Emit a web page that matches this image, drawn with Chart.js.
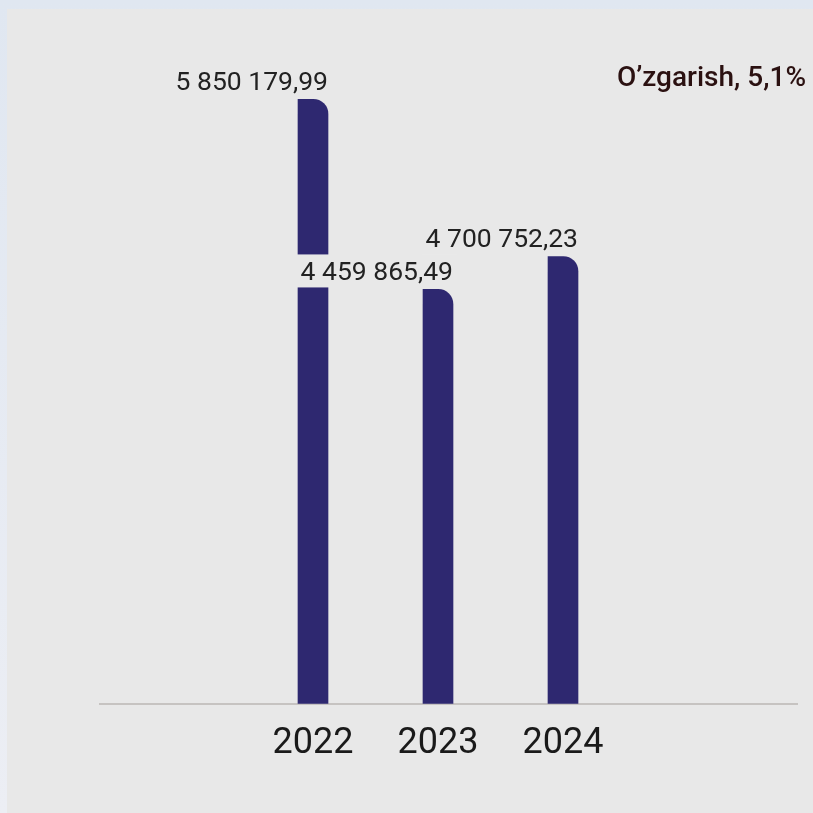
<!DOCTYPE html>
<html lang="uz">
<head>
  <meta charset="UTF-8">
  <title>O'zgarish</title>
  <script src="https://cdn.jsdelivr.net/npm/chart.js"></script>
  <style>
    html, body {
      margin: 0;
      padding: 0;
      width: 813px;
      height: 813px;
      overflow: hidden;
      background: linear-gradient(to bottom, #e0e7f1, #eceef4);
    }

    .panel {
      position: absolute;
      left: 7px;
      top: 9px;
      right: 0;
      bottom: 0;
      background: #e8e8e8;
    }

    .chart-box {
      position: absolute;
      left: 0;
      top: 0;
      width: 813px;
      height: 813px;
    }
  </style>
</head>
<body>
  <div class="panel"></div>
  <div class="chart-box"><canvas id="changeChart"></canvas></div>

  <script>
    const years = [2022, 2023, 2024];
    const amounts = [5850179.99, 4459865.49, 4700752.23];
    const amountLabels = ['5 850 179,99', '4 459 865,49', '4 700 752,23'];
    const titleText = 'O\u2019zgarish, 5,1%';

    // value labels sit right-aligned to the bar, on a patch of the panel colour
    const barLabels = {
      id: 'barLabels',
      afterDatasetsDraw(chart) {
        const ctx = chart.ctx;
        const meta = chart.getDatasetMeta(0);
        ctx.save();
        ctx.font = '400 26.5px Roboto, sans-serif';
        ctx.textAlign = 'right';
        ctx.textBaseline = 'alphabetic';
        meta.data.forEach((bar, i) => {
          const right = bar.x + bar.width / 2;
          const base = bar.y - 9;
          const w = ctx.measureText(amountLabels[i]).width;
          ctx.fillStyle = '#e8e8e8';
          ctx.fillRect(right - w - 4, bar.y - 35, w + 8, 33);
          ctx.fillStyle = '#222222';
          ctx.fillText(amountLabels[i], right, base);
        });
        ctx.restore();
      }
    };

    new Chart(document.getElementById('changeChart'), {
      type: 'bar',
      data: {
        datasets: [{
          data: years.map((y, i) => ({ x: y, y: amounts[i] })),
          backgroundColor: '#2e2870',
          barThickness: 30,
          borderSkipped: false,
          borderRadius: { topLeft: 0, topRight: 15, bottomLeft: 0, bottomRight: 0 }
        }]
      },
      options: {
        responsive: true,
        maintainAspectRatio: false,
        animation: false,
        layout: {
          padding: { left: 100, right: 7, top: 0, bottom: 36 }
        },
        plugins: {
          legend: { display: false },
          tooltip: { enabled: false },
          title: {
            display: true,
            text: titleText,
            align: 'end',
            color: '#2b1111',
            font: { family: 'Roboto, sans-serif', size: 28, weight: '500', lineHeight: 1.2 },
            padding: { top: 62, bottom: 0 }
          }
        },
        scales: {
          x: {
            type: 'linear',
            offset: false,
            min: 2020.296,
            max: 2025.872,
            afterBuildTicks: (axis) => { axis.ticks = years.map(v => ({ value: v })); },
            ticks: {
              color: '#1a1a1a',
              padding: 11,
              font: { family: 'Roboto, sans-serif', size: 36, lineHeight: 1.2 },
              callback: (v) => String(v)
            },
            grid: { display: false },
            border: { display: true, color: '#c6c3c1', width: 2 }
          },
          y: {
            position: 'right',
            min: 1431000,
            max: 5876700,
            afterFit: (axis) => { axis.width = 9; },
            ticks: { display: false },
            grid: { display: false },
            border: { display: false }
          }
        }
      },
      plugins: [barLabels]
    });
  </script>
</body>
</html>
